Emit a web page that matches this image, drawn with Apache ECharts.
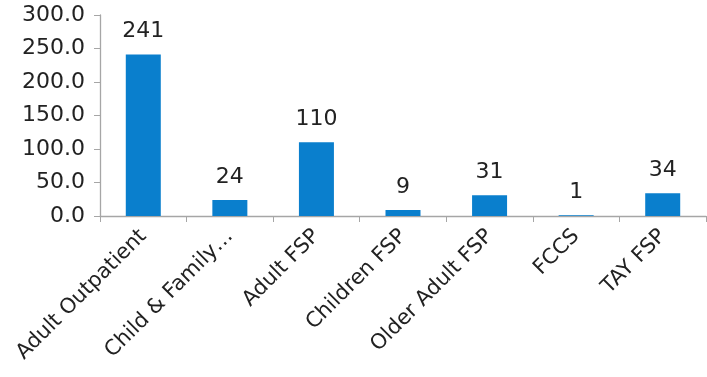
<!DOCTYPE html>
<html><head><meta charset="utf-8">
<script src="https://cdn.jsdelivr.net/npm/echarts@6/dist/echarts.min.js"></script>
<style>html,body{margin:0;padding:0;background:#fff}#c{width:707px;height:377px}</style>
</head><body><div id="c"></div>
<script>
const categories = ["Adult Outpatient", "Child & Family…", "Adult FSP", "Children FSP", "Older Adult FSP", "FCCS", "TAY FSP"];
const values = [241, 24, 110, 9, 31, 1, 34];
const yTicks = {min: 0, max: 300, interval: 50};
const font = "DejaVu Sans";
const chart = echarts.init(document.getElementById('c'));
chart.setOption({
  animation: false,
  grid: {left: 100, right: 1, top: 15, bottom: 161, containLabel: false},
  xAxis: {
    type: 'category', data: categories,
    axisLine: {lineStyle: {color: '#a6a6a6', width: 1.3}},
    axisTick: {show: true, length: 6, lineStyle: {color: '#a6a6a6'}},
    axisLabel: {rotate: 45, interval: 0, margin: 17, color: '#222', fontFamily: font, fontSize: 21}
  },
  yAxis: {
    type: 'value', min: yTicks.min, max: yTicks.max, interval: yTicks.interval,
    axisLine: {show: true, lineStyle: {color: '#a6a6a6', width: 1.3}},
    axisTick: {show: true, length: 6, lineStyle: {color: '#a6a6a6'}},
    splitLine: {show: false},
    axisLabel: {formatter: v => v.toFixed(1), color: '#222', fontFamily: font, fontSize: 22, margin: 15}
  },
  series: [{
    type: 'bar', data: values, barWidth: 35,
    itemStyle: {color: '#0a7fcd'},
    label: {show: true, position: 'top', distance: 12, color: '#222', fontFamily: font, fontSize: 22}
  }]
});
</script></body></html>
